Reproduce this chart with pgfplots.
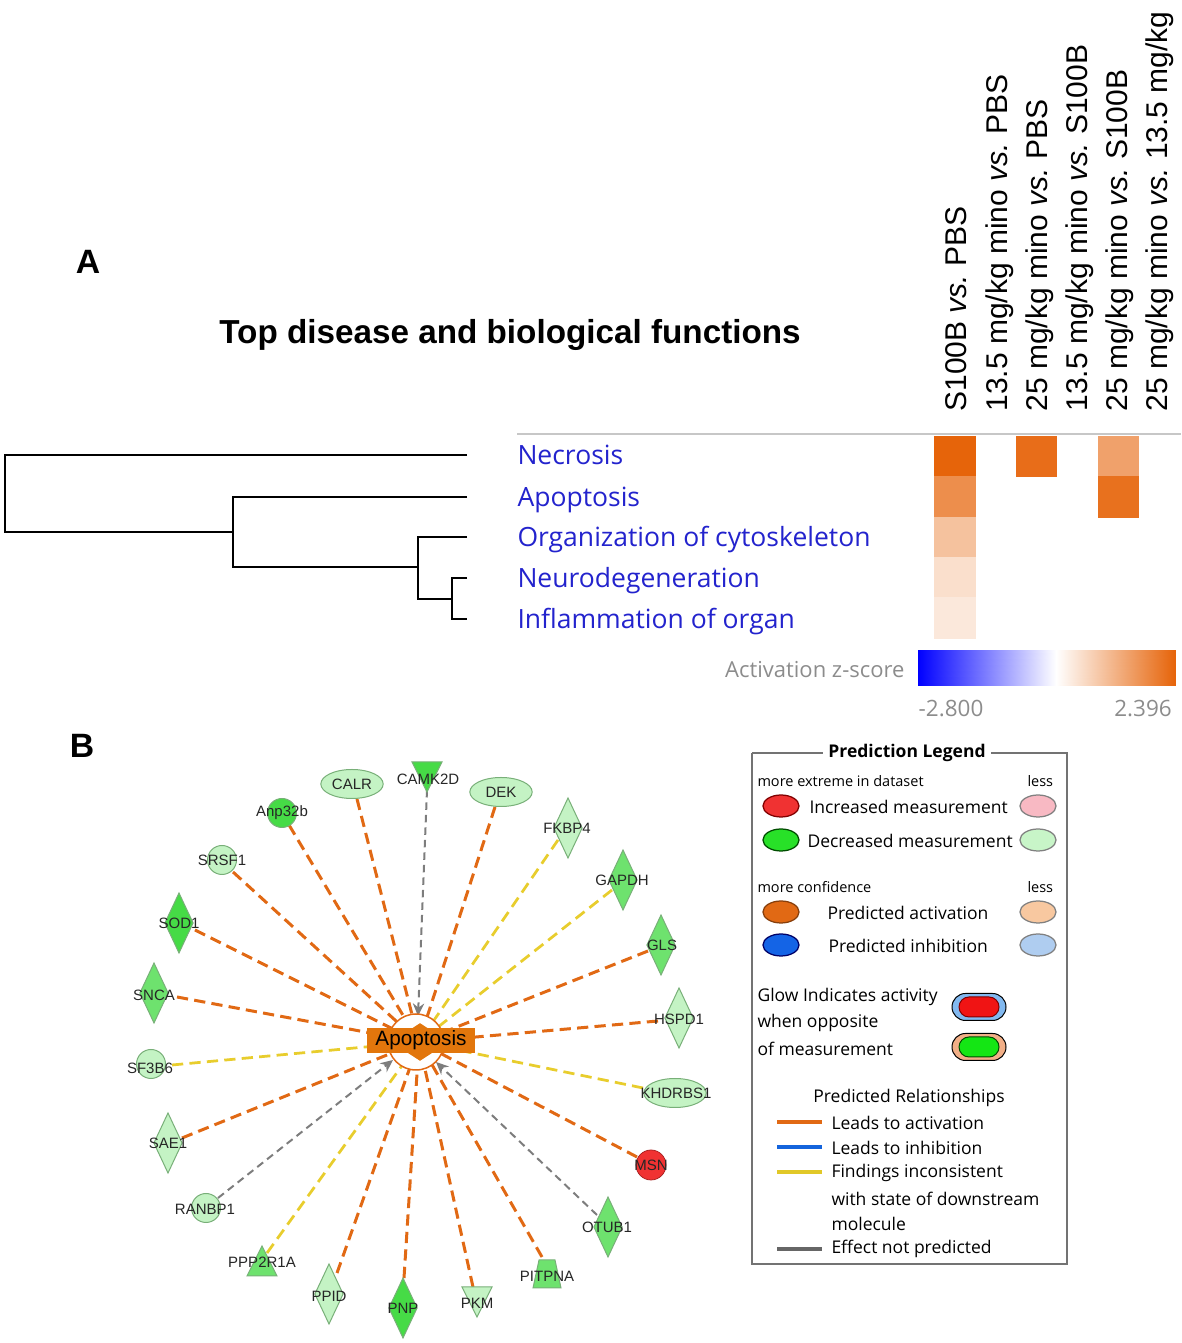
\documentclass[border=0pt]{standalone}
\usepackage{fontspec}
\setmainfont{Liberation Sans}
\newfontfamily\segoe{Open Sans}
\usepackage{pgfplots}
\pgfplotsset{compat=1.18}
\usetikzlibrary{arrows.meta}
\frenchspacing

\newcommand\fs[1]{\fontsize{#1}{#1}\selectfont}

\definecolor{rowblue}{RGB}{35,35,205}
\definecolor{eorange}{RGB}{225,105,20}
\definecolor{eyellow}{RGB}{232,205,45}
\definecolor{egray}{RGB}{125,125,125}
\definecolor{glight}{RGB}{196,243,196}
\definecolor{gmid}{RGB}{110,226,110}
\definecolor{gdark}{RGB}{70,219,70}
\definecolor{gedge}{RGB}{120,175,120}
\definecolor{nodered}{RGB}{240,50,50}
\definecolor{boxorange}{RGB}{226,118,12}
\definecolor{lpink}{RGB}{248,185,195}
\definecolor{lgreenD}{RGB}{40,225,40}
\definecolor{lgreenL}{RGB}{200,245,200}
\definecolor{lpeach}{RGB}{248,200,160}
\definecolor{lblueD}{RGB}{20,100,230}
\definecolor{lblueL}{RGB}{175,205,240}
\definecolor{glowblue}{RGB}{130,185,240}
\definecolor{glowor}{RGB}{242,175,135}
\definecolor{pillred}{RGB}{240,20,20}
\definecolor{pillgreen}{RGB}{20,230,20}
\definecolor{lineblue}{RGB}{20,100,220}
\definecolor{lineyel}{RGB}{225,200,40}

% marks for the network nodes
\pgfdeclareplotmark{dia}{%
  \pgfpathmoveto{\pgfqpoint{0pt}{\pgfplotmarksize}}%
  \pgfpathlineto{\pgfqpoint{.47\pgfplotmarksize}{0pt}}%
  \pgfpathlineto{\pgfqpoint{0pt}{-\pgfplotmarksize}}%
  \pgfpathlineto{\pgfqpoint{-.47\pgfplotmarksize}{0pt}}%
  \pgfpathclose\pgfusepathqfillstroke}
\pgfdeclareplotmark{trid}{%
  \pgfpathmoveto{\pgfqpoint{-\pgfplotmarksize}{\pgfplotmarksize}}%
  \pgfpathlineto{\pgfqpoint{\pgfplotmarksize}{\pgfplotmarksize}}%
  \pgfpathlineto{\pgfqpoint{0pt}{-\pgfplotmarksize}}%
  \pgfpathclose\pgfusepathqfillstroke}
\pgfdeclareplotmark{triu}{%
  \pgfpathmoveto{\pgfqpoint{-\pgfplotmarksize}{-\pgfplotmarksize}}%
  \pgfpathlineto{\pgfqpoint{\pgfplotmarksize}{-\pgfplotmarksize}}%
  \pgfpathlineto{\pgfqpoint{0pt}{\pgfplotmarksize}}%
  \pgfpathclose\pgfusepathqfillstroke}
\pgfdeclareplotmark{trap}{%
  \pgfpathmoveto{\pgfqpoint{-\pgfplotmarksize}{-\pgfplotmarksize}}%
  \pgfpathlineto{\pgfqpoint{\pgfplotmarksize}{-\pgfplotmarksize}}%
  \pgfpathlineto{\pgfqpoint{.57\pgfplotmarksize}{\pgfplotmarksize}}%
  \pgfpathlineto{\pgfqpoint{-.57\pgfplotmarksize}{\pgfplotmarksize}}%
  \pgfpathclose\pgfusepathqfillstroke}
\pgfdeclareplotmark{hexa}{%
  \pgfpathmoveto{\pgfqpoint{0pt}{1.3\pgfplotmarksize}}%
  \pgfpathlineto{\pgfqpoint{\pgfplotmarksize}{.65\pgfplotmarksize}}%
  \pgfpathlineto{\pgfqpoint{\pgfplotmarksize}{-.65\pgfplotmarksize}}%
  \pgfpathlineto{\pgfqpoint{0pt}{-1.3\pgfplotmarksize}}%
  \pgfpathlineto{\pgfqpoint{-\pgfplotmarksize}{-.65\pgfplotmarksize}}%
  \pgfpathlineto{\pgfqpoint{-\pgfplotmarksize}{.65\pgfplotmarksize}}%
  \pgfpathclose\pgfusepathqfillstroke}
\pgfdeclareplotmark{pill}{%
  \pgfpathmoveto{\pgfqpoint{-\pgfplotmarksize}{-\pgfplotmarksize}}%
  \pgfpathlineto{\pgfqpoint{\pgfplotmarksize}{-\pgfplotmarksize}}%
  \pgfpatharc{-90}{90}{\pgfplotmarksize}%
  \pgfpathlineto{\pgfqpoint{-\pgfplotmarksize}{\pgfplotmarksize}}%
  \pgfpatharc{90}{270}{\pgfplotmarksize}%
  \pgfpathclose\pgfusepathqfillstroke}
\pgfdeclareplotmark{boxm}{%
  \pgfpathrectangle{\pgfqpoint{-21.6pt}{-5pt}}{\pgfqpoint{43.2pt}{10pt}}%
  \pgfusepathqfill}

\pgfplotsset{
  oe/.style={color=eorange, line width=1.2pt, dash pattern=on 4.5pt off 2.5pt},
  ye/.style={color=eyellow, line width=1.1pt, dash pattern=on 4.5pt off 2.5pt},
  ge/.style={color=egray, line width=0.8pt, dash pattern=on 3pt off 2pt, -{Stealth[length=5pt,width=4.5pt]}},
  nd/.style={only marks, mark options={draw=gedge, line width=0.4pt, fill=#1}},
  ndell/.style={only marks, mark options={draw=gedge, line width=0.4pt, fill=#1, xscale=2.15}},
  lg/.style 2 args={only marks, mark=*, mark size=4.4pt, mark options={xscale=1.64, line width=0.5pt, fill=#1, draw=#2}},
}

% activation z-scores (column centre, row centre, z)
\pgfplotstableread{
x      y      z
955    456.5  2.396
1036.5 456.5  2.25
1118.5 456.5  1.45
955    497    1.75
1118.5 497    2.2
955    537.5  0.95
955    578    0.5
955    618    0.35
}\heat

\begin{document}
\begin{tikzpicture}
\begin{axis}[name=main, hide axis, scale only axis, set layers,
  width=472.4pt, height=537.2pt,
  xmin=0, xmax=1181, ymin=0, ymax=1343, y dir=reverse, clip=false,
  colormap={zs}{rgb255(0pt)=(0,0,255); rgb255(2800pt)=(255,255,255); rgb255(5196pt)=(230,100,10)},
  point meta min=-2.8, point meta max=2.396]

% ---------- panel A: dendrogram
\addplot[black, line width=1pt] coordinates {(467,455)(5,455)(5,532)(233,532)};
\addplot[black, line width=1pt] coordinates {(467,497)(233,497)(233,567)(418,567)};
\addplot[black, line width=1pt] coordinates {(467,537)(418,537)(418,599)(452,599)};
\addplot[black, line width=1pt] coordinates {(467,578)(452,578)(452,619)(467,619)};
\addplot[black!22, line width=0.5pt] coordinates {(517,434)(1181,434)};

% heatmap
\addplot[scatter, only marks, mark=square*, mark size=8.1pt,
  scatter/use mapped color={draw=mapped color, fill=mapped color},
  point meta=explicit] table[meta=z] {\heat};

% colour bar
\addplot[patch, patch type=rectangle, shader=interp, point meta=explicit] table[meta=z] {
x y z
918 650 -2.8
1056 650 0
1056 686 0
918 686 -2.8
};
\addplot[patch, patch type=rectangle, shader=interp, point meta=explicit] table[meta=z] {
x y z
1056 650 0
1175 650 2.396
1175 686 2.396
1056 686 0
};

% ---------- panel B: edges
\addplot[oe] coordinates {(357,799)(419,1042)};   % CALR
\addplot[oe] coordinates {(289,825)(419,1042)};   % Anp32b
\addplot[oe] coordinates {(233,872)(419,1042)};   % SRSF1
\addplot[oe] coordinates {(195,930)(419,1042)};   % SOD1
\addplot[oe] coordinates {(177,997)(419,1042)};   % SNCA
\addplot[oe] coordinates {(182,1138)(419,1042)};  % SAE1
\addplot[oe] coordinates {(337,1273)(419,1042)};  % PPID
\addplot[oe] coordinates {(404,1278)(419,1042)};  % PNP
\addplot[oe] coordinates {(473,1287)(419,1042)};  % PKM
\addplot[oe] coordinates {(542,1257)(419,1042)};  % PITPNA
\addplot[oe] coordinates {(637,1157)(419,1042)};  % MSN
\addplot[oe] coordinates {(658,1021)(419,1042)};  % HSPD1
\addplot[oe] coordinates {(648,951)(419,1042)};   % GLS
\addplot[oe] coordinates {(495,807)(419,1042)};   % DEK
\addplot[ye] coordinates {(558,840)(419,1042)};   % FKBP4
\addplot[ye] coordinates {(612,890)(419,1042)};   % GAPDH
\addplot[ye] coordinates {(643,1088)(419,1042)};  % KHDRBS1
\addplot[ye] coordinates {(172,1065)(419,1042)};  % SF3B6
\addplot[ye] coordinates {(267,1253)(419,1042)};  % PPP2R1A

\addplot[ge] coordinates {(427,790)(418,1016)};   % CAMK2D
\addplot[ge] coordinates {(218,1198)(393,1060)};  % RANBP1
\addplot[ge] coordinates {(597,1215)(436,1062)};  % OTUB1

% centre node
\addplot[only marks, mark=*, mark size=11.2pt, mark options={fill=white, draw=eorange, line width=0.6pt}] coordinates {(416,1042)};
\addplot[only marks, mark=hexa, mark size=5.6pt, mark options={fill=boxorange, draw=boxorange}] coordinates {(420,1042)};
\addplot[only marks, mark=boxm, mark options={fill=boxorange}] coordinates {(421,1040.5)};

% nodes
\addplot[nd=glight, mark=dia, mark size=12pt] coordinates {(568,828)(679,1018)(168,1143)(329,1294)};
\addplot[nd=gmid, mark=dia, mark size=12pt] coordinates {(623,880)(661,945)(154,993)(608,1227)};
\addplot[nd=gdark, mark=dia, mark size=12pt] coordinates {(179,923)(403,1308)};
\addplot[nd=glight, mark=*, mark size=5.8pt] coordinates {(222,860)(151,1064)(206,1208)};
\addplot[nd=gdark, mark=*, mark size=5.8pt] coordinates {(282,813)};
\addplot[only marks, mark=*, mark size=6pt, mark options={fill=nodered, draw=nodered!70!black, line width=0.3pt}] coordinates {(651,1165)};
\addplot[ndell=glight, mark=*, mark size=5.8pt] coordinates {(352,784)(501,792)(675,1093)};
\addplot[nd=gdark, mark=trid, mark size=6pt] coordinates {(427,777)};
\addplot[nd=glight, mark=trid, mark size=6pt] coordinates {(477,1302)};
\addplot[nd=gmid, mark=triu, mark size=6pt] coordinates {(262,1261)};
\addplot[nd=gmid, mark=trap, mark size=5.6pt] coordinates {(547,1274)};

% ---------- prediction legend
\addplot[black!55, line width=0.5pt] coordinates {(752,753)(1067,753)(1067,1264)(752,1264)(752,753)};
\addplot[lg={nodered}{red!50!black}] coordinates {(781,806)};
\addplot[lg={lpink}{black!50}] coordinates {(1038,806)};
\addplot[lg={lgreenD}{green!30!black}] coordinates {(781,840)};
\addplot[lg={lgreenL}{black!50}] coordinates {(1038,840)};
\addplot[lg={eorange}{eorange!60!black}] coordinates {(781,912)};
\addplot[lg={lpeach}{black!50}] coordinates {(1038,912)};
\addplot[lg={lblueD}{blue!40!black}] coordinates {(781,945)};
\addplot[lg={lblueL}{black!50}] coordinates {(1038,945)};
\addplot[only marks, mark=pill, mark size=5.4pt, mark options={fill=glowblue, draw=none}] coordinates {(979,1007)};
\addplot[only marks, mark=pill, mark size=4pt, mark options={fill=pillred, draw=red!50!black, line width=0.4pt}] coordinates {(979,1007)};
\addplot[only marks, mark=pill, mark size=5.4pt, mark options={fill=glowor, draw=none}] coordinates {(979,1047)};
\addplot[only marks, mark=pill, mark size=4pt, mark options={fill=pillgreen, draw=green!30!black, line width=0.4pt}] coordinates {(979,1047)};
\addplot[color=eorange, line width=1.3pt] coordinates {(777,1122)(822,1122)};
\addplot[color=lineblue, line width=1.3pt] coordinates {(777,1147)(822,1147)};
\addplot[color=lineyel, line width=1.3pt] coordinates {(777,1172)(822,1172)};
\addplot[color=black!60, line width=1.3pt] coordinates {(777,1249)(822,1249)};

% ---------- text
\begin{pgfonlayer}{axis foreground}
\node[font=\bfseries\fs{13.5}] at (88,262) {A};
\node[font=\bfseries\fs{13.5}] at (82,746) {B};
\node[font=\bfseries\fs{13.3}] at (510,335) {Top disease and biological functions};
\begin{scope}[every node/.style={rotate=90, anchor=base west, inner sep=0pt, font=\fs{12}}]
\node at (966,412) {S100B \textit{vs.} PBS};
\node at (1007,412) {13.5 mg/kg mino \textit{vs.} PBS};
\node at (1047,412) {25 mg/kg mino \textit{vs.} PBS};
\node at (1087,412) {13.5 mg/kg mino \textit{vs.} S100B};
\node at (1127,412) {25 mg/kg mino \textit{vs.} S100B};
\node at (1167,412) {25 mg/kg mino \textit{vs.} 13.5 mg/kg};
\end{scope}
\begin{scope}[every node/.style={anchor=base west, inner sep=0pt, text=rowblue, font=\segoe\fs{10.6}}]
\node at (517,465) {Necrosis};
\node at (517,507) {Apoptosis};
\node at (517,547) {Organization of cytoskeleton};
\node at (517,588) {Neurodegeneration};
\node at (517,629) {Inflammation of organ};
\end{scope}
\node[anchor=east, inner sep=0pt, text=black!45, font=\segoe\fs{8.8}] at (905,670) {Activation z-score};
\node[text=black!45, font=\segoe\fs{9}] at (951,709) {-2.800};
\node[text=black!45, font=\segoe\fs{9}] at (1143,709) {2.396};

\node[font=\fs{8.3}] at (421,1040.5) {Apoptosis};
\begin{scope}[every node/.style={inner sep=0pt, text=black!85, font=\fs{6}}]
\node at (352,784) {CALR};
\node at (428,779) {CAMK2D};
\node at (501,792) {DEK};
\node at (567,828) {FKBP4};
\node at (622,880) {GAPDH};
\node at (662,945) {GLS};
\node at (679,1019) {HSPD1};
\node at (676,1093) {KHDRBS1};
\node at (651,1165) {MSN};
\node at (607,1227) {OTUB1};
\node at (547,1276) {PITPNA};
\node at (477,1303) {PKM};
\node at (403,1308) {PNP};
\node at (329,1296) {PPID};
\node at (262,1262) {PPP2R1A};
\node at (205,1209) {RANBP1};
\node at (168,1143) {SAE1};
\node at (150,1068) {SF3B6};
\node at (154,995) {SNCA};
\node at (179,923) {SOD1};
\node at (222,860) {SRSF1};
\node at (282,813) {Anp32b};
\end{scope}

\node[fill=white, inner xsep=2pt, inner ysep=1pt, font=\segoe\bfseries\fs{7}] at (907,753) {Prediction Legend};
\begin{scope}[every node/.style={anchor=west, inner sep=0pt, font=\segoe\fs{7}}]
\node[font=\segoe\fs{5.8}] at (757,781) {more extreme in dataset};
\node[font=\segoe\fs{5.8}] at (1027,781) {less};
\node at (809,807) {Increased measurement};
\node at (807,841) {Decreased measurement};
\node[font=\segoe\fs{5.8}] at (757,887) {more confidence};
\node[font=\segoe\fs{5.8}] at (1027,887) {less};
\node at (827,913) {Predicted activation};
\node at (828,946) {Predicted inhibition};
\node at (757,997) {Glow Indicates activity};
\node at (757,1023) {when opposite};
\node at (757,1049) {of measurement};
\node at (831,1123) {Leads to activation};
\node at (831,1148) {Leads to inhibition};
\node at (831,1173) {Findings inconsistent};
\node at (831,1199) {with state of downstream};
\node at (831,1224) {molecule};
\node at (831,1249) {Effect not predicted};
\end{scope}
\node[font=\segoe\fs{7}] at (909,1098) {Predicted Relationships};
\end{pgfonlayer}
\end{axis}
\pgfresetboundingbox
\path (main.south west) rectangle (main.north east);
\end{tikzpicture}
\end{document}
